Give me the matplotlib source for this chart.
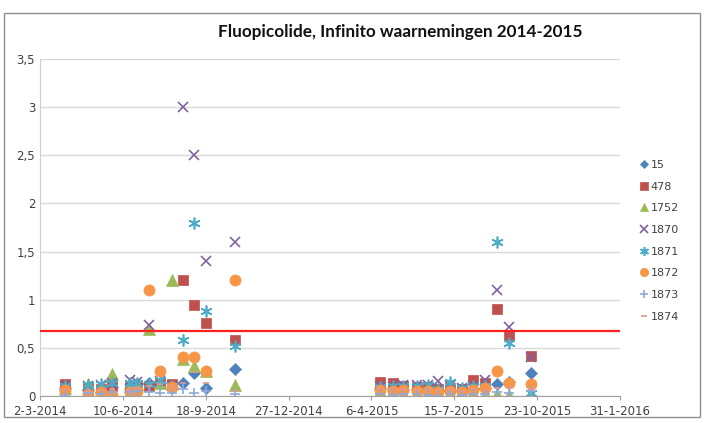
#!/usr/bin/env python3
import numpy as np
import matplotlib
matplotlib.use('Agg')
import matplotlib.pyplot as plt
from matplotlib.patches import Rectangle
from datetime import datetime

dates_2014 = ['2014-04-01', '2014-04-29', '2014-05-15', '2014-05-28', '2014-06-19',
              '2014-06-27', '2014-07-11', '2014-07-25', '2014-08-08', '2014-08-21',
              '2014-09-04', '2014-09-18', '2014-10-23']
dates_2015 = ['2015-04-16', '2015-05-02', '2015-05-14', '2015-05-31', '2015-06-13',
              '2015-06-25', '2015-07-10', '2015-07-24', '2015-08-06', '2015-08-21',
              '2015-09-04', '2015-09-19', '2015-10-16']
dates = dates_2014 + dates_2015

series_names = ['15', '478', '1752', '1870', '1871', '1872', '1873', '1874']

s15 = [0.08, 0.06, 0.04, 0.09, 0.07, 0.12, 0.14, 0.14, 0.08, 0.13, 0.24, 0.08, 0.28,
       0.08, 0.07, 0.06, 0.07, 0.08, 0.05, 0.06, 0.06, 0.07, 0.08, 0.12, 0.15, 0.24]
s478 = [0.12, 0.08, 0.07, 0.10, 0.09, 0.10, 0.10, 0.13, 0.12, 1.20, 0.94, 0.76, 0.58,
        0.15, 0.13, 0.10, 0.09, 0.09, 0.07, 0.08, 0.07, 0.17, 0.14, 0.90, 0.63, 0.42]
s1752 = [0.08, 0.12, 0.08, 0.23, 0.10, 0.12, 0.70, 0.14, 1.20, 0.38, 0.31, 0.26, 0.11,
         0.05, 0.04, 0.03, 0.03, 0.02, 0.02, 0.03, 0.02, 0.03, 0.02, 0.02, 0.01, 0.03]
s1870 = [0.10, 0.10, 0.11, 0.14, 0.17, 0.15, 0.74, 0.16, 0.10, 3.00, 2.50, 1.40, 1.60,
         0.10, 0.09, 0.11, 0.11, 0.11, 0.16, 0.10, 0.08, 0.10, 0.17, 1.10, 0.72, 0.40]
s1871 = [0.10, 0.11, 0.12, 0.14, 0.13, 0.14, 0.12, 0.17, 0.10, 0.58, 1.80, 0.88, 0.52,
         0.09, 0.10, 0.10, 0.10, 0.11, 0.07, 0.15, 0.08, 0.10, 0.10, 1.60, 0.55, 0.03]
s1872 = [0.06, 0.02, 0.04, 0.01, 0.04, 0.05, 1.10, 0.26, 0.09, 0.40, 0.40, 0.26, 1.20,
         0.06, 0.05, 0.06, 0.05, 0.05, 0.04, 0.05, 0.04, 0.06, 0.08, 0.26, 0.14, 0.12]
s1873 = [0.01, 0.03, 0.02, 0.04, 0.04, 0.05, 0.04, 0.03, 0.03, 0.07, 0.03, 0.05, 0.02,
         0.02, 0.01, 0.02, 0.02, 0.01, 0.00, 0.02, 0.01, 0.02, 0.02, 0.04, 0.03, 0.05]
s1874 = [0.06, 0.05, 0.06, 0.07, 0.06, 0.08, 0.10, 0.12, 0.10, 0.14, 0.25, 0.13, 0.05,
         0.08, 0.07, 0.07, 0.06, 0.07, 0.06, 0.07, 0.05, 0.07, 0.06, 0.08, 0.09, 0.07]

limit_value = 0.68

xtick_dates = ['2014-03-02', '2014-06-10', '2014-09-18', '2014-12-27',
               '2015-04-06', '2015-07-15', '2015-10-23', '2016-01-31']
xtick_labels = ['2-3-2014', '10-6-2014', '18-9-2014', '27-12-2014',
                '6-4-2015', '15-7-2015', '23-10-2015', '31-1-2016']
ytick_labels = ['0', '0,5', '1', '1,5', '2', '2,5', '3', '3,5']

styles = [
    ('D', '#4F81BD', 6),
    ('s', '#C0504D', 7.5),
    ('^', '#9BBB59', 8),
    ('x', '#8064A2', 7.5),
    ((6, 2, 0), '#4BACC6', 8.5),
    ('o', '#F79646', 8),
    ('+', '#8EAADB', 7.5),
    ('_', '#E39594', 5),
]

x = [datetime.strptime(d, '%Y-%m-%d') for d in dates]
all_series = [s15, s478, s1752, s1870, s1871, s1872, s1873, s1874]

fig = plt.figure(figsize=(7.06, 4.23), dpi=100)
ax = fig.add_axes([0.0567, 0.0638, 0.8215, 0.797])

for name, vals, (mk, col, ms) in zip(series_names, all_series, styles):
    thin = mk in ('x', '+', '_') or isinstance(mk, tuple)
    ax.plot(x, vals, linestyle='none', marker=mk, color=col, markersize=ms,
            markeredgewidth=1.2 if thin else 0.5, markeredgecolor=col, label=name)

ax.axhline(limit_value, color='#FF2020', linewidth=1.6, zorder=5)

ax.set_xlim(datetime(2014, 3, 2), datetime(2016, 1, 31))
ax.set_ylim(0, 3.5)
ax.set_xticks([datetime.strptime(d, '%Y-%m-%d') for d in xtick_dates])
ax.set_xticklabels(xtick_labels)
ax.set_yticks(np.arange(0, 3.51, 0.5))
ax.set_yticklabels(ytick_labels)
ax.tick_params(axis='both', labelsize=8.5, colors='#404040', length=3, width=0.8)
ax.tick_params(axis='x', colors='#A0A0A0', labelcolor='#404040')
ax.tick_params(axis='y', length=0)
ax.grid(axis='y', color='#D9D9D9', linewidth=1)
ax.set_axisbelow(True)
for side in ['top', 'right']:
    ax.spines[side].set_visible(False)
ax.spines['left'].set_color('#D0D0D0')
ax.spines['bottom'].set_color('#A0A0A0')

fig.text(0.567, 0.925, 'Fluopicolide, Infinito waarnemingen 2014-2015',
         ha='center', va='center', fontsize=12.3, fontweight='bold',
         family='Lato', color='#111111')

leg = ax.legend(loc='upper left', bbox_to_anchor=(1.015, 0.73), frameon=False,
                fontsize=8, labelspacing=1.05, handletextpad=0.1,
                handlelength=1.0, markerscale=0.75)
for t in leg.get_texts():
    t.set_color('#404040')

fig.patches.append(Rectangle((0.006, 0.015), 0.986, 0.955, transform=fig.transFigure,
                             fill=False, edgecolor='#909090', linewidth=1))

fig.savefig('out.png', dpi=100)
